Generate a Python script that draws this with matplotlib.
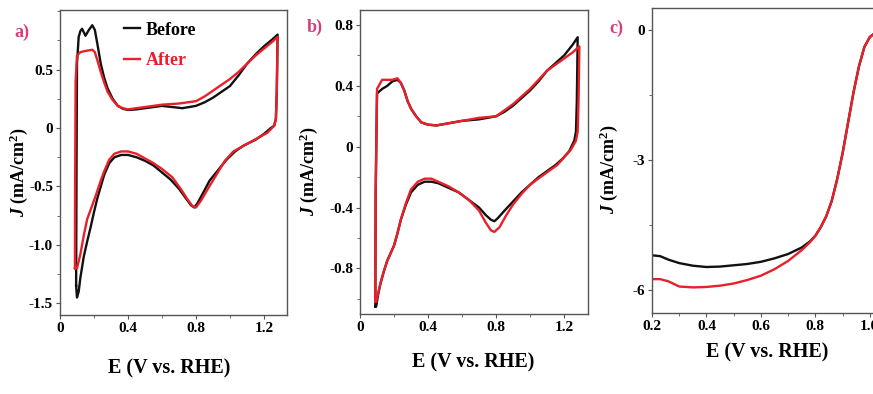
import numpy as np
import matplotlib
matplotlib.use("Agg")
import matplotlib.pyplot as plt
from matplotlib.ticker import MultipleLocator

plt.rcParams['font.family'] = ['Liberation Serif', 'DejaVu Serif']
plt.rcParams['font.weight'] = 'bold'
plt.rcParams['mathtext.fontset'] = 'custom'
plt.rcParams['mathtext.rm'] = 'Liberation Serif:bold'
plt.rcParams['mathtext.it'] = 'Liberation Serif:italic:bold'

# panel a: CV, anodic then cathodic sweep (E in V, J in mA/cm2)
a_before_E = [0.095, 0.097, 0.10, 0.11, 0.12, 0.13, 0.15, 0.17, 0.19, 0.205, 0.22, 0.24, 0.26, 0.28, 0.31, 0.34, 0.37, 0.40, 0.45, 0.50, 0.60, 0.66, 0.72, 0.80, 0.85, 0.90, 0.95, 1.00, 1.05, 1.10, 1.15, 1.20, 1.25, 1.28,
              1.275, 1.27, 1.26, 1.24, 1.20, 1.15, 1.08, 1.03, 0.98, 0.93, 0.88, 0.84, 0.81, 0.79, 0.77, 0.74, 0.70, 0.65, 0.60, 0.55, 0.50, 0.45, 0.40, 0.36, 0.32, 0.29, 0.26, 0.24, 0.22, 0.20, 0.18, 0.16, 0.14, 0.12, 0.11, 0.10, 0.095]
a_before_J = [-1.35, -0.5, 0.55, 0.78, 0.83, 0.85, 0.79, 0.84, 0.88, 0.84, 0.72, 0.55, 0.43, 0.34, 0.25, 0.19, 0.165, 0.155, 0.16, 0.17, 0.19, 0.18, 0.17, 0.19, 0.22, 0.26, 0.31, 0.36, 0.45, 0.55, 0.63, 0.70, 0.76, 0.80,
              0.30, 0.08, 0.02, 0.00, -0.05, -0.10, -0.15, -0.20, -0.27, -0.36, -0.45, -0.56, -0.64, -0.68, -0.66, -0.60, -0.52, -0.44, -0.38, -0.32, -0.28, -0.25, -0.23, -0.23, -0.25, -0.30, -0.40, -0.50, -0.60, -0.72, -0.85, -0.97, -1.10, -1.28, -1.40, -1.45, -1.35]
a_after_E = [0.088, 0.089, 0.092, 0.10, 0.12, 0.15, 0.19, 0.205, 0.22, 0.24, 0.26, 0.28, 0.31, 0.34, 0.37, 0.40, 0.45, 0.50, 0.60, 0.70, 0.80, 0.85, 0.90, 0.95, 1.00, 1.05, 1.10, 1.15, 1.20, 1.25, 1.28,
             1.275, 1.27, 1.26, 1.22, 1.17, 1.12, 1.07, 1.02, 0.97, 0.92, 0.87, 0.83, 0.80, 0.78, 0.75, 0.71, 0.66, 0.60, 0.55, 0.50, 0.45, 0.40, 0.36, 0.32, 0.29, 0.26, 0.24, 0.21, 0.18, 0.16, 0.14, 0.12, 0.10, 0.088]
a_after_J = [-1.20, -0.5, 0.40, 0.62, 0.65, 0.66, 0.67, 0.65, 0.58, 0.48, 0.39, 0.31, 0.24, 0.19, 0.17, 0.16, 0.17, 0.18, 0.20, 0.21, 0.23, 0.27, 0.32, 0.37, 0.42, 0.48, 0.55, 0.62, 0.68, 0.74, 0.78,
             0.30, 0.08, 0.02, -0.04, -0.08, -0.12, -0.16, -0.20, -0.28, -0.40, -0.52, -0.62, -0.68, -0.67, -0.61, -0.52, -0.42, -0.35, -0.30, -0.26, -0.22, -0.20, -0.20, -0.22, -0.27, -0.37, -0.45, -0.58, -0.70, -0.78, -0.92, -1.08, -1.20, -1.20]

# panel b
b_before_E = [0.09, 0.092, 0.10, 0.13, 0.16, 0.19, 0.22, 0.24, 0.26, 0.28, 0.30, 0.33, 0.36, 0.40, 0.45, 0.50, 0.60, 0.70, 0.80, 0.85, 0.90, 0.95, 1.00, 1.05, 1.10, 1.15, 1.20, 1.25, 1.28,
              1.275, 1.27, 1.26, 1.23, 1.19, 1.15, 1.10, 1.05, 1.00, 0.95, 0.90, 0.85, 0.81, 0.79, 0.77, 0.74, 0.70, 0.64, 0.58, 0.52, 0.46, 0.42, 0.38, 0.34, 0.30, 0.27, 0.24, 0.22, 0.20, 0.18, 0.16, 0.14, 0.12, 0.105, 0.095, 0.09]
b_before_J = [-1.05, -0.3, 0.35, 0.38, 0.40, 0.43, 0.44, 0.42, 0.37, 0.30, 0.25, 0.20, 0.16, 0.145, 0.14, 0.15, 0.17, 0.18, 0.20, 0.23, 0.27, 0.32, 0.37, 0.43, 0.50, 0.55, 0.60, 0.67, 0.72,
              0.30, 0.10, 0.04, -0.03, -0.08, -0.12, -0.16, -0.20, -0.25, -0.30, -0.36, -0.42, -0.47, -0.49, -0.48, -0.45, -0.40, -0.35, -0.30, -0.27, -0.24, -0.23, -0.23, -0.25, -0.30, -0.38, -0.48, -0.57, -0.65, -0.70, -0.75, -0.82, -0.90, -0.98, -1.05, -1.05]
b_after_E = [0.09, 0.092, 0.10, 0.13, 0.16, 0.19, 0.22, 0.24, 0.26, 0.28, 0.30, 0.33, 0.36, 0.40, 0.45, 0.50, 0.60, 0.70, 0.80, 0.85, 0.90, 0.95, 1.00, 1.05, 1.10, 1.15, 1.20, 1.25, 1.29,
             1.285, 1.28, 1.27, 1.24, 1.20, 1.16, 1.11, 1.06, 1.00, 0.95, 0.90, 0.86, 0.82, 0.79, 0.77, 0.74, 0.70, 0.64, 0.58, 0.52, 0.46, 0.42, 0.38, 0.34, 0.30, 0.27, 0.24, 0.22, 0.20, 0.18, 0.16, 0.14, 0.12, 0.105, 0.095, 0.09]
b_after_J = [-1.02, -0.3, 0.38, 0.44, 0.44, 0.44, 0.45, 0.42, 0.37, 0.30, 0.25, 0.20, 0.16, 0.145, 0.14, 0.15, 0.17, 0.19, 0.20, 0.24, 0.28, 0.33, 0.38, 0.44, 0.50, 0.54, 0.58, 0.62, 0.66,
             0.30, 0.10, 0.04, -0.02, -0.07, -0.12, -0.16, -0.20, -0.25, -0.31, -0.38, -0.45, -0.53, -0.56, -0.55, -0.50, -0.42, -0.35, -0.30, -0.26, -0.23, -0.21, -0.21, -0.23, -0.28, -0.37, -0.48, -0.57, -0.65, -0.70, -0.75, -0.82, -0.90, -0.97, -1.02, -1.02]

# panel c: LSV
c_before_E = [0.20, 0.23, 0.26, 0.30, 0.35, 0.40, 0.45, 0.50, 0.55, 0.60, 0.65, 0.70, 0.75, 0.78, 0.80, 0.82, 0.84, 0.86, 0.88, 0.90, 0.92, 0.94, 0.96, 0.98, 1.00, 1.02, 1.05]
c_before_J = [-5.2, -5.22, -5.30, -5.38, -5.44, -5.47, -5.46, -5.43, -5.40, -5.35, -5.27, -5.17, -5.02, -4.88, -4.75, -4.55, -4.30, -3.95, -3.45, -2.85, -2.15, -1.45, -0.85, -0.40, -0.17, -0.07, -0.02]
c_after_E = [0.20, 0.23, 0.26, 0.30, 0.35, 0.40, 0.45, 0.50, 0.55, 0.60, 0.65, 0.70, 0.75, 0.78, 0.80, 0.82, 0.84, 0.86, 0.88, 0.90, 0.92, 0.94, 0.96, 0.98, 1.00, 1.02, 1.05]
c_after_J = [-5.75, -5.75, -5.80, -5.92, -5.94, -5.93, -5.90, -5.85, -5.77, -5.67, -5.52, -5.33, -5.08, -4.90, -4.75, -4.55, -4.30, -3.95, -3.45, -2.85, -2.15, -1.45, -0.85, -0.40, -0.17, -0.07, -0.02]

black = '#111111'
red = '#e8202a'
tag_color = '#d0407a'

fig = plt.figure(figsize=(8.73, 3.94), dpi=100)
ax_a = fig.add_axes([0.0687, 0.2005, 0.260, 0.774])
ax_b = fig.add_axes([0.4124, 0.203, 0.261, 0.772])
ax_c = fig.add_axes([0.7469, 0.2056, 0.2806, 0.774])

ax_a.plot(a_before_E, a_before_J, color=black, lw=1.7, label='Before')
ax_a.plot(a_after_E, a_after_J, color=red, lw=1.7, label='After')
ax_b.plot(b_before_E, b_before_J, color=black, lw=1.7)
ax_b.plot(b_after_E, b_after_J, color=red, lw=1.7)
ax_c.plot(c_before_E, c_before_J, color=black, lw=1.7)
ax_c.plot(c_after_E, c_after_J, color=red, lw=1.7)

ax_a.set_xlim(0, 1.335)
ax_a.set_ylim(-1.6, 1.01)
ax_a.xaxis.set_minor_locator(MultipleLocator(0.2))
ax_a.set_yticks([-1.5, -1.0, -0.5, 0, 0.5])
ax_a.set_yticklabels(['-1.5', '-1.0', '-0.5', '0', '0.5'])
ax_a.yaxis.set_minor_locator(MultipleLocator(0.25))

ax_b.set_xlim(0, 1.34)
ax_b.set_ylim(-1.1, 0.9)
ax_b.xaxis.set_minor_locator(MultipleLocator(0.2))
ax_b.set_yticks([-0.8, -0.4, 0, 0.4, 0.8])
ax_b.set_yticklabels(['-0.8', '-0.4', '0', '0.4', '0.8'])
ax_b.yaxis.set_minor_locator(MultipleLocator(0.2))

ax_c.set_xlim(0.2, 1.1)
ax_c.set_ylim(-6.53, 0.5)
ax_c.set_xticks([0.2, 0.4, 0.6, 0.8, 1.0])
ax_c.set_xticklabels(['0.2', '0.4', '0.6', '0.8', '1.0'])
ax_c.xaxis.set_minor_locator(MultipleLocator(0.1))
ax_c.set_yticks([-6, -3, 0])
ax_c.set_yticklabels(['-6', '-3', '0'])
ax_c.yaxis.set_minor_locator(MultipleLocator(1.5))

for ax in (ax_a, ax_b):
    ax.set_xticks([0, 0.4, 0.8, 1.2])
    ax.set_xticklabels(['0', '0.4', '0.8', '1.2'])

# label / tag positions in axes fractions
ylab_x = [-0.132, -0.175, -0.13]
xlab = [(0.48, -0.141), (0.495, -0.128), (0.47, -0.098)]
tags = [('a)', -0.167, 0.928), ('b)', -0.197, 0.944), ('c)', -0.147, 0.934)]

for i, ax in enumerate((ax_a, ax_b, ax_c)):
    for s in ax.spines.values():
        s.set_color('#555555')
        s.set_linewidth(1.0)
    ax.tick_params(which='major', direction='out', length=3, width=0.8, color='#555555', labelsize=11, pad=2)
    ax.tick_params(which='minor', direction='out', length=2, width=0.6, color='#555555')
    ax.set_xlabel('E (V vs. RHE)', fontsize=14.5, fontweight='bold')
    ax.xaxis.set_label_coords(*xlab[i])
    ax.set_ylabel(r'$J$ (mA/cm$^{2}$)', fontsize=13, fontweight='bold')
    ax.yaxis.set_label_coords(ylab_x[i], 0.47)
    tag, tx, ty = tags[i]
    ax.text(tx, ty, tag, transform=ax.transAxes, color=tag_color, fontsize=13, fontweight='bold', ha='center', va='center')

ax_a.legend(loc='upper left', bbox_to_anchor=(0.23, 1.0), frameon=False, fontsize=13,
            handlelength=0.9, handletextpad=0.3, labelspacing=0.75, borderaxespad=0.25)
leg = ax_a.get_legend()
leg.get_texts()[1].set_color(red)
for t in leg.get_texts():
    t.set_fontweight('bold')

fig.savefig('out.png', dpi=100)
